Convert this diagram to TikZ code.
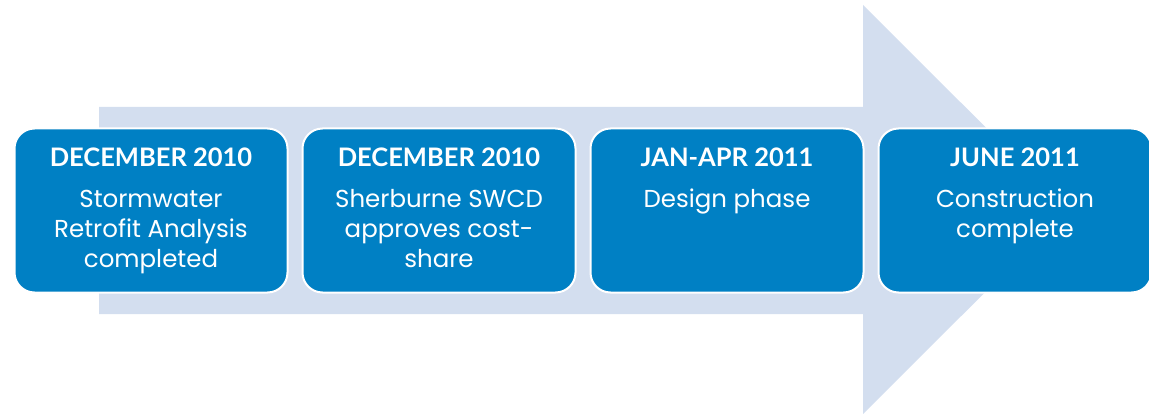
\documentclass[tikz,border=0pt]{standalone}
\usepackage{fontspec}
\setmainfont{Poppins}
\newfontfamily\ttlfont{Lato}
\definecolor{arrowfill}{RGB}{211,222,239}
\definecolor{boxfill}{RGB}{0,128,196}
\begin{document}
\begin{tikzpicture}[x=1pt,y=-1pt,
  stepbox/.style={draw=white,line width=2pt,fill=boxfill,rounded corners=20pt,
    minimum width=273pt,minimum height=164pt,inner sep=0pt},
  txt/.style={text=white,align=center,anchor=north,inner sep=0pt,
    font={\fontsize{24.5}{30}\selectfont}}]
\useasboundingbox (0,0) rectangle (1149,414);
\clip (0,0) rectangle (1149,414);
\fill[arrowfill] (99,107) -- (863,107) -- (863,5) -- (1068,209.5) -- (863,414) -- (863,314) -- (99,314) -- cycle;
\node[stepbox] (b1) at (151,210.5) {};
\node[stepbox] (b2) at (439,210.5) {};
\node[stepbox] (b3) at (727,210.5) {};
\node[stepbox] (b4) at (1015,210.5) {};
\newcommand\ttlline[1]{{\ttlfont\bfseries\fontsize{25.5}{30}\selectfont #1}\\[11pt]}
\node[txt] (t1) at ([yshift=-20pt]b1.north) {\ttlline{DECEMBER 2010}Stormwater\\Retrofit Analysis\\completed};
\node[txt] (t2) at ([yshift=-20pt]b2.north) {\ttlline{DECEMBER 2010}Sherburne SWCD\\approves cost-\\share};
\node[txt] (t3) at ([yshift=-20pt]b3.north) {\ttlline{JAN-APR 2011}Design phase};
\node[txt] (t4) at ([yshift=-20pt]b4.north) {\ttlline{JUNE 2011}Construction\\complete};
\end{tikzpicture}
\end{document}
